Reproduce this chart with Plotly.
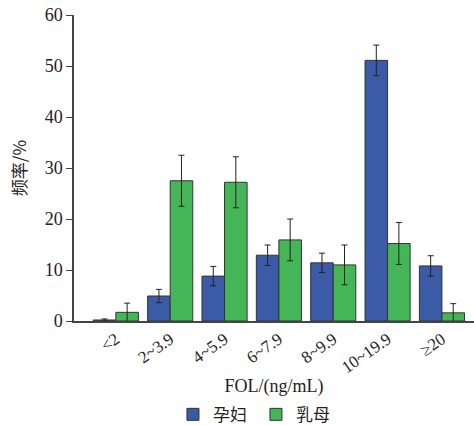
import plotly.graph_objects as go

categories = ["<2", "2~3.9", "4~5.9", "6~7.9", "8~9.9", "10~19.9", "≥20"]
cat_labels = ["&lt;2", "2~3.9", "4~5.9", "6~7.9", "8~9.9", "10~19.9", "≥20"]
pregnant = [0.2, 4.9, 8.8, 12.9, 11.4, 51.1, 10.8]
pregnant_err = [0.2, 1.3, 1.9, 2.0, 1.9, 3.0, 2.0]
lactating = [1.7, 27.5, 27.2, 15.9, 11.0, 15.2, 1.6]
lactating_err = [1.8, 5.0, 5.0, 4.1, 3.9, 4.1, 1.8]

serif = "Liberation Serif, Times New Roman, serif"
cjk = "Noto Sans CJK SC"

x = list(range(len(categories)))

fig = go.Figure()
fig.add_trace(go.Bar(
    x=x, y=pregnant, name="孕妇",
    marker=dict(color="#3B5BA6", line=dict(color="#333333", width=1)),
    error_y=dict(type="data", array=pregnant_err, color="#222222", thickness=1, width=3),
))
fig.add_trace(go.Bar(
    x=x, y=lactating, name="乳母",
    marker=dict(color="#45B657", line=dict(color="#333333", width=1)),
    error_y=dict(type="data", array=lactating_err, color="#222222", thickness=1, width=3),
))

fig.update_layout(
    width=474, height=425,
    margin=dict(l=74, r=0, t=15, b=104, autoexpand=False),
    plot_bgcolor="white", paper_bgcolor="white",
    barmode="group", bargap=0.17, bargroupgap=0,
    font=dict(family=serif, size=17, color="#222222"),
    showlegend=True,
    legend=dict(
        orientation="h", xref="container", x=0.54, xanchor="center",
        yref="container", y=0.024, yanchor="middle",
        font=dict(family=cjk, size=17, color="#222222"),
        itemwidth=30, traceorder="normal", tracegroupgap=0,
        entrywidth=38,
    ),
)
fig.update_xaxes(
    tickmode="array", tickvals=x, ticktext=cat_labels,
    range=[-0.77, 6.59], tickangle=-35,
    showline=True, linecolor="#444444", linewidth=1.5,
    ticks="", showgrid=False, zeroline=False, automargin=False,
    tickfont=dict(family=serif, size=17),
    title=dict(text="FOL/(ng/mL)", font=dict(family=serif, size=18), standoff=19),
)
fig.update_yaxes(
    range=[0, 60], dtick=10,
    showline=True, linecolor="#444444", linewidth=1.5,
    ticks="outside", ticklen=6, tickcolor="#444444",
    showgrid=False, zeroline=False, automargin=False,
    tickfont=dict(family=serif, size=18),
    title=dict(text="频率/%", font=dict(family=cjk, size=17), standoff=14),
)

fig.write_html("out.html")
